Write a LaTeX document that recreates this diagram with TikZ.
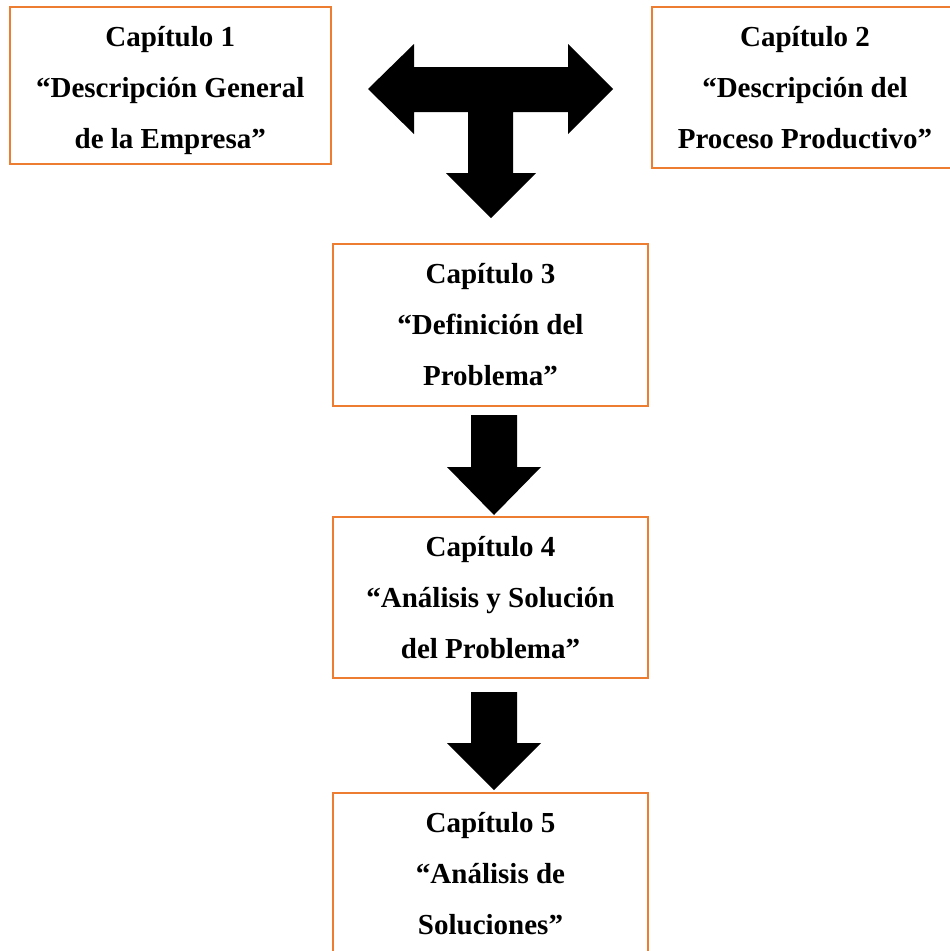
\documentclass[tikz,border=0pt]{standalone}
\usepackage{fontspec}
\setmainfont{Liberation Serif}
\definecolor{boxorange}{HTML}{ED7D31}
\tikzset{
  chaptext/.style={inner sep=0pt, align=center, font=\fontsize{29}{51}\selectfont\bfseries},
  chapbox/.style={chaptext, draw=boxorange, line width=2pt, rectangle},
  blockarrow/.style={fill=black, draw=none}
}
\begin{document}
\begin{tikzpicture}[x=1pt,y=-1pt]
\useasboundingbox (0,0) rectangle (950,951);
\node[chapbox, minimum width=321.5pt, minimum height=157pt] (b1) at (170.25,85.5) {};
\node[chaptext] (t1) at ([yshift=-5pt]b1.center)
  {Capítulo 1\\“Descripción General\\de la Empresa”};
\node[chapbox, minimum width=306pt, minimum height=161pt] (b2) at (805,87.5)
  {Capítulo 2\\“Descripción del\\Proceso Productivo”};
\node[chapbox, minimum width=315pt, minimum height=162pt] (b3) at (490.5,325)
  {Capítulo 3\\“Definición del\\Problema”};
\node[chapbox, minimum width=315pt, minimum height=161pt] (b4) at (490.5,597.5)
  {Capítulo 4\\“Análisis y Solución\\del Problema”};
\node[chapbox, minimum width=315pt, minimum height=162pt] (b5) at (490.5,874)
  {Capítulo 5\\“Análisis de\\Soluciones”};
% T-shaped block arrow
\fill[blockarrow] (368,89) -- (414,44) -- (414,67) -- (568,67) -- (568,44) -- (613,89)
  -- (568,134) -- (568,112) -- (513,112) -- (513,173) -- (536,173) -- (491,218)
  -- (446,173) -- (468,173) -- (468,112) -- (414,112) -- (414,134) -- cycle;
% arrow 3 -> 4
\fill[blockarrow] (471,415) -- (517,415) -- (517,467) -- (541,467) -- (494,515)
  -- (447,467) -- (471,467) -- cycle;
% arrow 4 -> 5
\fill[blockarrow] (471,692) -- (517,692) -- (517,743) -- (541,743) -- (494,790)
  -- (447,743) -- (471,743) -- cycle;
\end{tikzpicture}
\end{document}
